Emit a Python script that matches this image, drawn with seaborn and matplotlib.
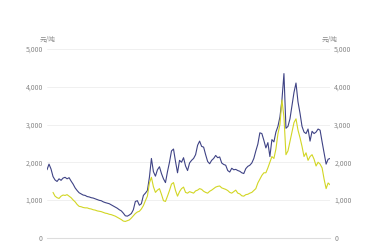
import numpy as np
import pandas as pd
import matplotlib
matplotlib.use("Agg")
import matplotlib.pyplot as plt
import seaborn as sns

# Data (x = sample index, ~ chronological order)
blue_values = [
    1800, 1950, 1820, 1620, 1530, 1490, 1560, 1520, 1580, 1600,
    1560, 1590, 1500, 1420, 1320, 1250, 1190, 1160, 1130, 1120,
    1090, 1080, 1060, 1050, 1030, 1010, 990, 980, 950, 930,
    915, 900, 870, 840, 810, 780, 740, 710, 650, 580,
    570, 600, 640, 740, 960, 980, 860, 900, 1120, 1180,
    1250, 1600, 2100, 1750, 1630, 1800, 1880, 1700, 1560, 1460,
    1750, 2000, 2300, 2350, 2020, 1720, 2050, 2000, 2120, 1900,
    1780, 1980, 2050, 2100, 2200, 2450, 2560, 2420, 2400, 2200,
    2020, 1960, 2050, 2100, 2180, 2120, 2140, 1980, 1940, 1920,
    1780, 1740, 1840, 1800, 1810, 1780, 1760, 1720, 1700, 1830,
    1890, 1920, 1980, 2100, 2300, 2480, 2780, 2760, 2580, 2380,
    2520, 2150, 2600, 2540, 2800, 2950, 3200, 3650, 4350, 2900,
    2950, 3150, 3500, 3850, 4100, 3600, 3300, 2950, 2800, 2760,
    2880, 2560, 2820, 2760, 2800, 2880, 2850, 2540, 2250, 1950,
    2080, 2100,
]
yellow_values = [
    np.nan, np.nan, np.nan, 1200, 1100, 1060, 1040, 1100, 1130, 1120,
    1140, 1100, 1060, 1000, 950, 880, 830, 820, 800, 790,
    790, 770, 760, 740, 730, 710, 700, 690, 670, 650,
    640, 620, 610, 590, 570, 540, 510, 480, 440, 430,
    450, 470, 520, 580, 640, 680, 700, 760, 850, 980,
    1100, 1450, 1600, 1350, 1200, 1260, 1300, 1150, 980, 960,
    1100, 1250, 1420, 1460, 1250, 1100, 1220, 1300, 1340, 1200,
    1180, 1220, 1200, 1180, 1240, 1260, 1300, 1280, 1230, 1200,
    1180, 1230, 1260, 1300, 1340, 1360, 1370, 1320, 1300, 1280,
    1250, 1200, 1180, 1220, 1260, 1180, 1160, 1110, 1100, 1140,
    1150, 1180, 1200, 1250, 1300, 1450, 1550, 1650, 1720, 1720,
    1850, 2000, 2150, 2100, 2350, 2750, 3000, 3650, 3200, 2200,
    2300, 2550, 2800, 3050, 3150, 2850, 2650, 2420, 2150, 2250,
    2050, 2150, 2200, 2080, 1900, 2000, 1950, 1850, 1550, 1300,
    1450, 1400,
]
y_ticks = [0, 1000, 2000, 3000, 4000, 5000]
y_tick_labels = ["0", "1,000", "2,000", "3,000", "4,000", "5,000"]
unit_label = "元/吨"

sns.set_style("white")
plt.rcParams["font.family"] = ["Noto Sans CJK SC", "DejaVu Sans"]

n = len(blue_values)
df = pd.DataFrame({
    "idx": list(range(n)) * 2,
    "value": blue_values + yellow_values,
    "series": ["blue"] * n + ["yellow"] * n,
})

fig = plt.figure(figsize=(3.76, 2.43), dpi=100)
ax = fig.add_axes([0.125, 0.022, 0.753, 0.776])

sns.lineplot(data=df, x="idx", y="value", hue="series",
             palette={"blue": "#3f4385", "yellow": "#d2d624"},
             linewidth=0.8, legend=False, ax=ax)

ax.set_xlim(0, n - 1)
ax.set_ylim(0, 5000)
ax.set_yticks(y_ticks)
ax.set_yticklabels(y_tick_labels)
ax.set_xticks([])
ax.set_xlabel("")
ax.set_ylabel("")
for s in ["top", "left", "right"]:
    ax.spines[s].set_visible(False)
ax.spines["bottom"].set_color("#dddddd")
ax.spines["bottom"].set_linewidth(0.8)
ax.yaxis.grid(True, color="#eeeeee", linewidth=0.6)
ax.set_axisbelow(True)
ax.tick_params(axis="y", length=0, labelsize=5, labelcolor="#888888",
               pad=3, labelright=True, labelleft=True)

fig.text(0.148, 0.835, unit_label, fontsize=4.8, color="#888888", ha="right", va="center")
fig.text(0.898, 0.835, unit_label, fontsize=4.8, color="#888888", ha="right", va="center")

fig.savefig("out.png", dpi=100, facecolor="white")
